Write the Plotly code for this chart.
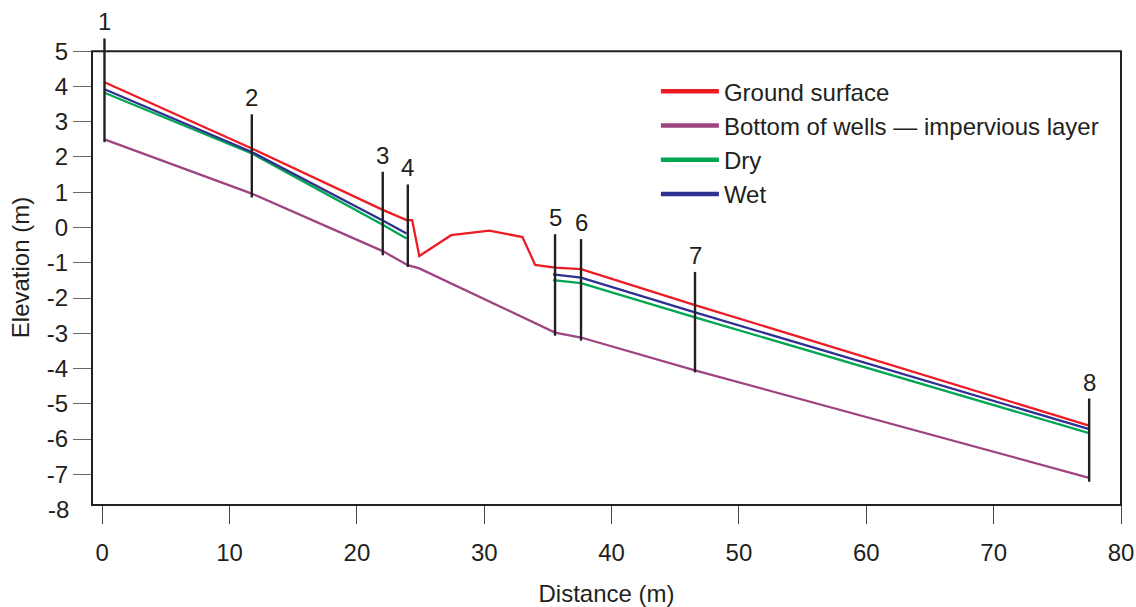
import plotly.graph_objects as go

# ---------------- data ----------------
ground_x = [0.18, 11.75, 22.03, 23.9, 24.34, 24.9, 27.4, 30.4, 33.0, 34.0, 35.56, 37.6, 46.55, 77.5]
ground_y = [4.12, 2.24, 0.5, 0.21, 0.21, -0.81, -0.22, -0.09, -0.27, -1.06, -1.14, -1.18, -2.2, -5.62]

bottom_x = [0.18, 11.75, 22.03, 24.0, 24.9, 33.86, 35.56, 37.6, 46.55, 77.5]
bottom_y = [2.5, 0.96, -0.67, -1.07, -1.16, -2.67, -2.98, -3.12, -4.05, -7.1]

dry_x = [0.18, 11.75, 22.03, 23.9, None, 35.4, 37.6, 46.55, 77.5]
dry_y = [3.82, 2.1, 0.08, -0.31, None, -1.49, -1.58, -2.55, -5.83]

wet_x = [0.18, 11.75, 22.03, 23.9, None, 35.4, 37.6, 46.55, 77.5]
wet_y = [3.92, 2.14, 0.2, -0.17, None, -1.33, -1.42, -2.41, -5.72]

well_names = ["1", "2", "3", "4", "5", "6", "7", "8"]
well_x = [0.18, 11.75, 22.03, 24.0, 35.56, 37.6, 46.55, 77.5]
well_top = [5.36, 3.21, 1.58, 1.22, -0.19, -0.33, -1.26, -4.85]
well_bottom = [2.42, 0.85, -0.79, -1.12, -3.07, -3.21, -4.11, -7.21]

series_names = ["Ground surface", "Bottom of wells \u2014 impervious layer", "Dry", "Wet"]

x_ticks = [0, 10, 20, 30, 40, 50, 60, 70, 80]
y_ticks = [5, 4, 3, 2, 1, 0, -1, -2, -3, -4, -5, -6, -7]
y_extra_label = -8

# ---------------- style ----------------
FONT = "Liberation Sans, Arial, Helvetica, sans-serif"
FS = 24
INK = "#231f20"
COLORS = ["#ed1c24", "#9e4480", "#00a651", "#2e3192"]

X_RANGE = [-0.8, 80.0]
Y_RANGE = [-7.87, 5.6]
Y_FRAME_TOP = 5.0


def ypaper(v):
    return (v - Y_RANGE[0]) / (Y_RANGE[1] - Y_RANGE[0])


fig = go.Figure()

series = [(ground_x, ground_y), (bottom_x, bottom_y), (dry_x, dry_y), (wet_x, wet_y)]
for name, (xs, ys), col in zip(series_names, series, COLORS):
    fig.add_trace(go.Scatter(x=xs, y=ys, mode="lines", name=name, legendgroup=name,
                             showlegend=False, line=dict(color=col, width=2.3),
                             connectgaps=False))
# legend entries (thicker sample lines, as in the original key)
for name, col in zip(series_names, COLORS):
    fig.add_trace(go.Scatter(x=[None], y=[None], mode="lines", name=name, legendgroup=name,
                             showlegend=True, line=dict(color=col, width=4.5)))

# wells as vertical segments
wx, wy = [], []
for x, t, b in zip(well_x, well_top, well_bottom):
    wx += [x, x, None]
    wy += [t, b, None]
fig.add_trace(go.Scatter(x=wx, y=wy, mode="lines", showlegend=False,
                         line=dict(color=INK, width=2.4), hoverinfo="skip"))

annotations = []
for n, x, t in zip(well_names, well_x, well_top):
    annotations.append(dict(x=x, y=t, xref="x", yref="y", text=n, showarrow=False,
                            yanchor="bottom", yshift=1,
                            font=dict(family=FONT, size=FS, color=INK)))
annotations.append(dict(x=0, y=ypaper(y_extra_label), xref="paper", yref="paper",
                        text=str(y_extra_label), showarrow=False, xanchor="right",
                        yanchor="middle", xshift=-21,
                        font=dict(family=FONT, size=FS, color=INK)))

shapes = [dict(type="rect", xref="paper", yref="paper", x0=0, x1=1, y0=0,
               y1=ypaper(Y_FRAME_TOP), line=dict(color=INK, width=2), layer="above")]

fig.update_layout(
    width=1136, height=607,
    margin=dict(l=92, r=15, t=29.5, b=102, pad=0),
    paper_bgcolor="white", plot_bgcolor="white",
    font=dict(family=FONT, size=FS, color=INK),
    showlegend=True,
    legend=dict(x=0.548, y=0.9175, xanchor="left", yanchor="top",
                font=dict(family=FONT, size=FS, color=INK),
                bgcolor="rgba(0,0,0,0)", tracegroupgap=3, itemwidth=58,
                traceorder="normal"),
    xaxis=dict(range=X_RANGE, tickvals=x_ticks, ticktext=[str(v) for v in x_ticks],
               ticks="outside", ticklen=18, tickcolor="#444", tickwidth=1,
               showgrid=False, zeroline=False, showline=False, automargin=False,
               ticklabelstandoff=8,
               tickfont=dict(family=FONT, size=FS, color=INK),
               title=dict(text="Distance (m)", font=dict(family=FONT, size=FS, color=INK),
                          standoff=22)),
    yaxis=dict(range=Y_RANGE, tickvals=y_ticks, ticktext=[str(v) for v in y_ticks],
               ticks="outside", ticklen=18, tickcolor="#666", tickwidth=1,
               showgrid=False, zeroline=False, showline=False, automargin=False,
               ticklabelstandoff=0,
               tickfont=dict(family=FONT, size=FS, color=INK),
               title=dict(text="Elevation (m)", font=dict(family=FONT, size=FS, color=INK),
                          standoff=10)),
    annotations=annotations,
    shapes=shapes,
)

fig.write_html("out.html", config={"displayModeBar": False},
               post_script="document.body.style.margin='0';")
